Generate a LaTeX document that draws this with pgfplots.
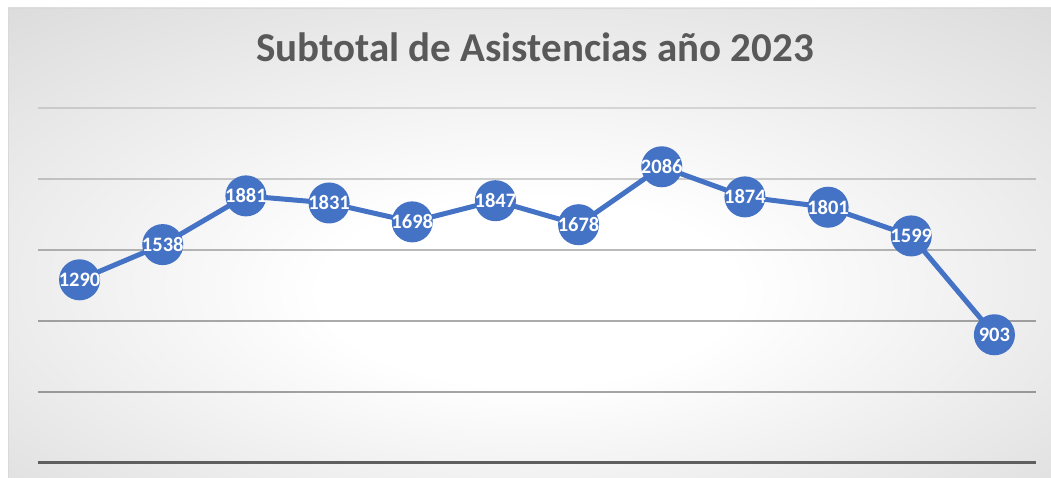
\documentclass[border=0pt]{standalone}
\usepackage{fontspec}
\setmainfont{Carlito}
\usepackage{pgfplots}
\pgfplotsset{compat=1.18}
\definecolor{serie}{HTML}{4472C4}
\definecolor{titlegray}{HTML}{595959}
\definecolor{axisgray}{HTML}{5F5F5F}
\pgfdeclareradialshading{bgshade}{\pgfpoint{0bp}{-6bp}}{color(0bp)=(white); color(10bp)=(white); color(50bp)=(black!20); color(72bp)=(black!24)}
\pgfplotstableread{
x y label
0 1290 1290
1 1538 1538
2 1881 1881
3 1831 1831
4 1698 1698
5 1847 1847
6 1678 1678
7 2086 2086
8 1874 1874
9 1801 1801
10 1599 1599
11 903 903
}\datatable
\begin{document}
\begin{tikzpicture}[x=1bp,y=1bp]
\useasboundingbox (0,0) rectangle (1051,478);
\shade[shading=bgshade] (8,0) rectangle (1051,470);
\draw[black!15, line width=0.8bp] (8,0) -- (8,470) -- (1051,470);
\node[anchor=base, font=\fontsize{41bp}{49bp}\selectfont\bfseries, text=titlegray, inner sep=0pt] at (535,416) {Subtotal de Asistencias año 2023};
\begin{axis}[
  at={(38bp,15bp)}, anchor=south west,
  scale only axis, width=998bp, height=355bp,
  xmin=-0.5, xmax=11.5, ymin=0, ymax=2500,
  axis x line=bottom, axis y line=left,
  x axis line style={axisgray, line width=3bp, -},
  y axis line style={draw=none},
  xtick=\empty,
  ytick=\empty,
  clip=false,
]
\draw[black, opacity=0.35, line width=1.3bp] (axis cs:-0.5,500) -- (axis cs:11.5,500);
\draw[black, opacity=0.33, line width=1.3bp] (axis cs:-0.5,1000) -- (axis cs:11.5,1000);
\draw[black, opacity=0.27, line width=1.3bp] (axis cs:-0.5,1500) -- (axis cs:11.5,1500);
\draw[black, opacity=0.18, line width=1.3bp] (axis cs:-0.5,2000) -- (axis cs:11.5,2000);
\draw[black, opacity=0.12, line width=1.3bp] (axis cs:-0.5,2500) -- (axis cs:11.5,2500);
\addplot[serie, line width=5bp, mark=*, mark size=18bp, mark options={fill=serie, draw=none},
  point meta=explicit symbolic,
  nodes near coords,
  every node near coord/.style={anchor=center, text=white, font=\fontsize{20.5bp}{24bp}\selectfont\bfseries, inner sep=0pt},
] table[x=x, y=y, meta=label] {\datatable};
\end{axis}
\end{tikzpicture}
\end{document}
